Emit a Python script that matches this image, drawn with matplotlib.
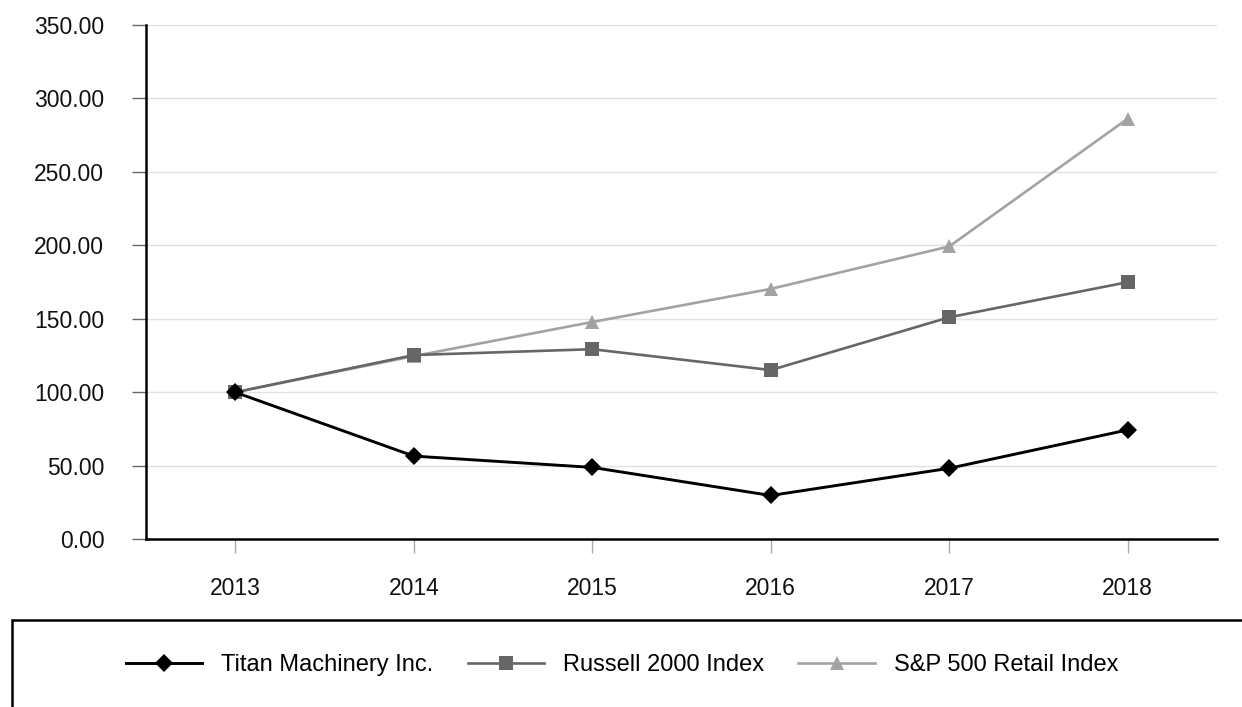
import matplotlib
matplotlib.use("Agg")
import matplotlib.pyplot as plt
from matplotlib.patches import Rectangle

plt.rcParams['font.family'] = ['Liberation Sans', 'DejaVu Sans']

years = [2013, 2014, 2015, 2016, 2017, 2018]
titan = [100.00, 56.6, 48.9, 29.8, 48.3, 74.4]
russell = [100.00, 125.3, 129.3, 115.1, 151.0, 174.9]
sp_retail = [100.00, 124.6, 147.8, 170.3, 199.2, 286.1]
series_names = ["Titan Machinery Inc.", "Russell 2000 Index", "S&P 500 Retail Index"]
yticks = [0, 50, 100, 150, 200, 250, 300, 350]

W, H = 1242, 707
fig = plt.figure(figsize=(W / 100, H / 100), dpi=100)
ax = fig.add_axes([146 / W, 1 - 539.3 / H, (1217 - 146) / W, (539.3 - 24.7) / H])

ax.plot(years, sp_retail, color='#a3a3a3', lw=1.9, marker='^', ms=9.6,
        markeredgewidth=0, label=series_names[2], zorder=3)
ax.plot(years, russell, color='#666666', lw=1.9, marker='s', ms=9.6,
        markeredgewidth=0, label=series_names[1], zorder=4)
ax.plot(years, titan, color='#000000', lw=2.1, marker='D', ms=9.0,
        markeredgewidth=0, label=series_names[0], zorder=5)

ax.set_xlim(2012.5, 2018.5)
ax.set_ylim(0, 350)
ax.set_yticks(yticks)
ax.set_yticklabels([f"{v:.2f}" for v in yticks])
ax.set_xticks(years)
ax.set_xticklabels([str(y) for y in years])

ax.grid(axis='y', color='#e2e2e2', lw=1.0, zorder=0)
ax.set_axisbelow(True)

for s in ['top', 'right']:
    ax.spines[s].set_visible(False)
for s in ['left', 'bottom']:
    ax.spines[s].set_color('black')
    ax.spines[s].set_linewidth(1.8)

ax.tick_params(axis='y', length=10, width=1.0, color='#666666', pad=20,
               labelsize=16.5, labelcolor='#111111')
ax.tick_params(axis='x', length=10, width=1.0, color='#aaaaaa', pad=17,
               labelsize=16.5, labelcolor='#111111')

# legend box
rect = Rectangle((12 / W, -0.2), 1.2, (707 - 620) / H + 0.2, transform=fig.transFigure,
                 fill=False, edgecolor='black', lw=1.8, clip_on=False)
fig.patches.append(rect)

handles, labels = ax.get_legend_handles_labels()
order = [2, 1, 0]
fig.legend([handles[i] for i in order], [labels[i] for i in order],
           loc='center', bbox_to_anchor=(622 / W, 1 - 665 / H), ncol=3,
           frameon=False, fontsize=17, handlelength=3.25, handletextpad=0.8,
           columnspacing=1.44)

fig.savefig("out.png", dpi=100)
